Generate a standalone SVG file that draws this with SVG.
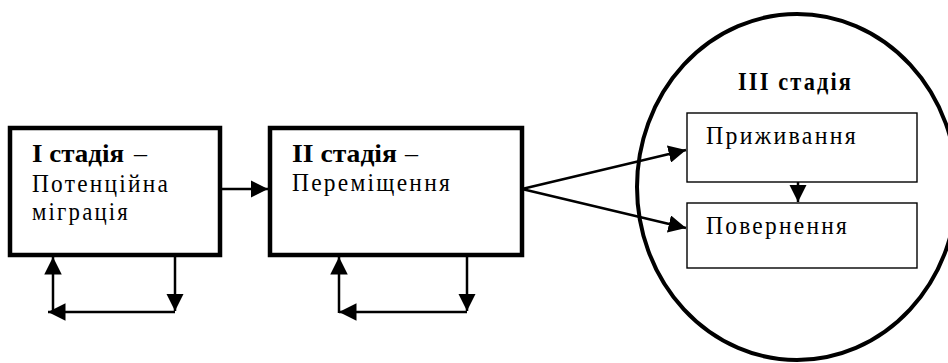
<svg xmlns="http://www.w3.org/2000/svg" width="948" height="363" viewBox="0 0 948 363">
<defs>
<marker id="ahs" viewBox="0 0 10 10" refX="10" refY="5" markerWidth="7" markerHeight="7" markerUnits="strokeWidth" orient="auto">
<path d="M0,0 L10,5 L0,10 z" fill="#000"/>
</marker>
</defs>
<style>
.t{font-family:"Liberation Serif","Times New Roman",serif;font-size:26px;letter-spacing:2.5px;fill:#000}
.b{font-weight:bold}
.h{font-size:25px;letter-spacing:0}
.thick{fill:#fff;stroke:#000;stroke-width:4.5}
.thin{fill:#fff;stroke:#000;stroke-width:1.4}
.c{fill:none;stroke:#000;stroke-width:2.5}
</style>
<rect width="948" height="363" fill="#fff"/>
<g id="stage3">
<ellipse cx="797" cy="187" rx="160" ry="173" fill="#fff" stroke="#000" stroke-width="4"/>
<text class="t b" x="738" y="90" textLength="115" lengthAdjust="spacingAndGlyphs">III стадія</text>
</g>
<g id="stage1">
<rect class="thick" x="10" y="128" width="210" height="127"/>
<text class="t b h" x="32" y="162" textLength="92" lengthAdjust="spacingAndGlyphs">I стадія</text>
<text class="t h" x="134" y="162" textLength="13" lengthAdjust="spacingAndGlyphs">–</text>
<text class="t" x="32" y="192" textLength="138" lengthAdjust="spacingAndGlyphs">Потенційна</text>
<text class="t" x="32" y="220" textLength="98" lengthAdjust="spacingAndGlyphs">міграція</text>
</g>
<g id="stage2">
<rect class="thick" x="270" y="128" width="252" height="127"/>
<text class="t b h" x="292" y="162" textLength="105" lengthAdjust="spacingAndGlyphs">II стадія</text>
<text class="t h" x="405" y="162" textLength="13" lengthAdjust="spacingAndGlyphs">–</text>
<text class="t" x="292" y="191" textLength="160" lengthAdjust="spacingAndGlyphs">Переміщення</text>
</g>
<g id="settle">
<rect class="thin" x="687" y="113" width="230" height="69"/>
<text class="t" x="706" y="144" textLength="152" lengthAdjust="spacingAndGlyphs">Приживання</text>
</g>
<g id="return">
<rect class="thin" x="687" y="203" width="230" height="65"/>
<text class="t" x="706" y="234" textLength="143" lengthAdjust="spacingAndGlyphs">Повернення</text>
</g>
<g id="connectors">
<line class="c" x1="222" y1="189" x2="268" y2="189" marker-end="url(#ahs)"/>
<line class="c" x1="522" y1="189" x2="686" y2="150" marker-end="url(#ahs)"/>
<line class="c" x1="522" y1="189" x2="686" y2="228" marker-end="url(#ahs)"/>
<line class="c" x1="798" y1="182" x2="798" y2="202" marker-end="url(#ahs)"/>
<line class="c" x1="175" y1="257" x2="175" y2="311" marker-end="url(#ahs)"/>
<line class="c" x1="175" y1="312" x2="48" y2="312" marker-end="url(#ahs)"/>
<line class="c" x1="53" y1="313" x2="53" y2="257" marker-end="url(#ahs)"/>
<line class="c" x1="467" y1="257" x2="467" y2="311" marker-end="url(#ahs)"/>
<line class="c" x1="467" y1="312" x2="339" y2="312" marker-end="url(#ahs)"/>
<line class="c" x1="339" y1="313" x2="339" y2="257" marker-end="url(#ahs)"/>
</g>
</svg>
